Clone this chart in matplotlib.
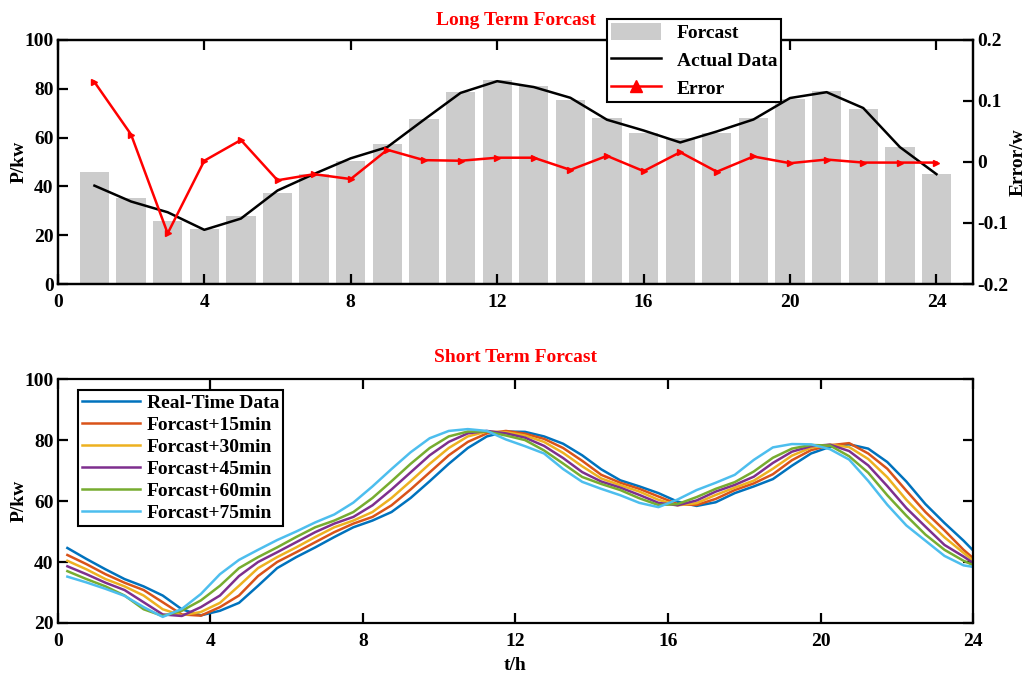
import numpy as np
import matplotlib
matplotlib.use("Agg")
import matplotlib.pyplot as plt
from matplotlib.lines import Line2D
from matplotlib.patches import Patch

plt.rcParams["font.family"] = ["Liberation Serif", "DejaVu Serif"]
plt.rcParams["font.weight"] = "bold"
plt.rcParams["axes.labelweight"] = "bold"

# ── long term data (hourly) ────────────────────────────────────────────────
hours = list(range(1, 25))
forecast = [45.8, 35.1, 25.9, 22.6, 27.8, 37.3, 45.0, 50.3, 57.2, 67.6, 78.6, 83.4,
            81.3, 75.5, 68.0, 61.9, 60.0, 61.9, 68.0, 75.9, 79.0, 71.5, 56.1, 45.1]
actual = [40.3, 33.8, 29.4, 22.2, 26.8, 38.3, 45.1, 51.5, 56.1, 67.3, 78.3, 83.1,
          80.7, 76.3, 67.3, 62.9, 58.0, 62.5, 67.4, 76.2, 78.6, 72.1, 56.1, 45.0]
error = [0.131, 0.045, -0.117, 0.002, 0.036, -0.030, -0.020, -0.028, 0.020, 0.003,
         0.002, 0.007, 0.007, -0.013, 0.010, -0.015, 0.016, -0.016, 0.009, -0.002,
         0.004, -0.001, -0.001, -0.001]

# ── short term data (every 30 min) ─────────────────────────────────────────
t = [0.25, 0.75, 1.25, 1.75, 2.25, 2.75, 3.25, 3.75, 4.25, 4.75, 5.25, 5.75,
     6.25, 6.75, 7.25, 7.75, 8.25, 8.75, 9.25, 9.75, 10.25, 10.75, 11.25, 11.75,
     12.25, 12.75, 13.25, 13.75, 14.25, 14.75, 15.25, 15.75, 16.25, 16.75, 17.25, 17.75,
     18.25, 18.75, 19.25, 19.75, 20.25, 20.75, 21.25, 21.75, 22.25, 22.75, 23.25, 23.75, 24.0]
real_time = [44.6, 41.0, 37.6, 34.4, 32.0, 29.0, 24.5, 22.5, 24.0, 26.6, 32.2, 38.0,
             41.6, 44.8, 48.2, 51.4, 53.6, 56.4, 61.0, 66.5, 72.2, 77.4, 81.2, 82.8,
             82.7, 81.2, 78.8, 75.0, 70.4, 66.8, 64.8, 62.6, 59.8, 58.4, 59.6, 62.6,
             64.8, 67.2, 71.6, 75.6, 77.8, 78.6, 77.2, 72.8, 66.4, 59.0, 52.8, 47.0, 43.8]
fc_15 = [42.3, 39.3, 36.0, 33.2, 30.8, 26.8, 22.8, 22.4, 25.2, 29.0, 35.4, 40.0,
         43.2, 46.5, 49.8, 52.6, 54.8, 58.6, 63.8, 69.4, 75.0, 79.4, 82.2, 83.0,
         82.1, 80.4, 77.4, 73.2, 68.6, 66.0, 64.0, 61.5, 59.0, 58.7, 60.7, 63.6,
         65.8, 68.8, 73.4, 76.7, 78.3, 79.0, 75.6, 70.6, 63.4, 56.4, 50.4, 44.0, 41.3]
fc_30 = [40.4, 37.6, 34.4, 32.0, 29.0, 24.5, 22.5, 23.6, 26.6, 32.2, 38.0, 41.6,
         44.8, 48.2, 51.4, 53.6, 56.4, 61.0, 66.5, 72.2, 77.4, 81.2, 82.8, 82.6,
         81.5, 79.4, 75.8, 71.4, 67.4, 65.2, 63.1, 60.4, 58.6, 59.3, 62.0, 64.4,
         66.7, 70.6, 74.9, 77.5, 78.5, 77.7, 73.8, 67.8, 60.4, 54.0, 48.1, 43.0, 40.5]
fc_45 = [38.6, 36.0, 33.2, 30.8, 26.8, 22.8, 22.3, 25.2, 29.0, 35.4, 40.0, 43.2,
         46.5, 49.8, 52.6, 54.8, 58.6, 63.8, 69.4, 75.0, 79.4, 82.2, 83.0, 82.2,
         80.8, 78.1, 74.1, 69.5, 66.4, 64.4, 62.0, 59.4, 58.6, 60.2, 63.1, 65.3,
         68.0, 72.5, 76.2, 78.0, 78.5, 76.4, 71.7, 64.9, 57.7, 51.6, 45.6, 41.8, 39.7]
fc_60 = [37.0, 34.4, 32.0, 29.0, 24.5, 22.3, 24.0, 27.4, 32.2, 38.0, 41.6, 44.8,
         48.2, 51.4, 53.6, 56.4, 61.0, 66.5, 72.2, 77.4, 81.2, 82.8, 82.8, 81.5,
         80.0, 76.6, 72.3, 67.9, 65.6, 63.6, 60.9, 58.7, 59.0, 61.3, 64.0, 66.2,
         69.7, 74.2, 77.2, 78.4, 78.2, 74.7, 69.3, 61.9, 55.2, 49.0, 44.0, 40.4, 39.0]
fc_75 = [35.2, 33.3, 31.2, 28.9, 25.2, 22.0, 24.6, 29.5, 36.0, 40.7, 44.0, 47.2,
         50.0, 53.0, 55.6, 59.5, 64.8, 70.5, 76.0, 80.6, 83.0, 83.6, 83.0, 80.2,
         78.0, 75.6, 70.5, 66.3, 64.0, 61.9, 59.4, 58.0, 60.5, 63.6, 66.0, 68.6,
         73.5, 77.6, 78.7, 78.6, 77.0, 73.6, 66.6, 58.8, 52.0, 47.0, 42.0, 38.9, 38.4]

short_series = [real_time, fc_15, fc_30, fc_45, fc_60, fc_75]
short_labels = ["Real-Time Data", "Forcast+15min", "Forcast+30min",
                "Forcast+45min", "Forcast+60min", "Forcast+75min"]
short_colors = ["#0072BD", "#D95319", "#EDB120", "#7E2F8E", "#77AC30", "#4DBEEE"]

FS = 14

fig = plt.figure(figsize=(10.33, 6.77), dpi=100)
ax1 = fig.add_axes([0.056, 0.5805, 0.886, 0.3605])
ax3 = fig.add_axes([0.056, 0.0798, 0.886, 0.3602])


def style(ax):
    for s in ax.spines.values():
        s.set_linewidth(1.6)
    ax.tick_params(direction="in", length=7, width=1.6, labelsize=FS, pad=3)
    ax.tick_params(axis="x", pad=7)


# ── top: long term ─────────────────────────────────────────────────────────
ax1.bar(hours, forecast, width=0.8, color="#CCCCCC", zorder=1)
ax1.plot(hours, actual, color="black", linewidth=1.8, zorder=3)
ax1.set_xlim(0, 25)
ax1.set_ylim(0, 100)
ax1.set_xticks(range(0, 25, 4))
ax1.set_yticks(range(0, 101, 20))
ax1.set_ylabel("P/kw", fontsize=FS, labelpad=-2)
style(ax1)
ax1.tick_params(axis="x", top=True)

ax2 = ax1.twinx()
ax2.plot(hours, error, color="red", linewidth=1.8, marker=">", markersize=5)
ax2.set_ylim(-0.2, 0.2)
ax2.set_yticks([-0.2, -0.1, 0, 0.1, 0.2])
ax2.set_yticklabels(["-0.2", "-0.1", "0", "0.1", "0.2"])
ax2.set_ylabel("Error/w", fontsize=FS, labelpad=1)
style(ax2)

ax1.set_title("Long Term Forcast", color="red", fontsize=FS, fontweight="bold", pad=11)

handles = [Patch(facecolor="#CCCCCC", edgecolor="none"),
           Line2D([], [], color="black", linewidth=1.8),
           Line2D([], [], color="red", linewidth=1.8, marker="^", markersize=9)]
leg = ax2.legend(handles, ["Forcast", "Actual Data", "Error"],
                 loc="upper left", bbox_to_anchor=(607 / 1033, 1 - 19 / 677),
                 bbox_transform=fig.transFigure, borderaxespad=0,
                 fontsize=FS, frameon=True, fancybox=False, framealpha=1,
                 edgecolor="black", handlelength=2.6, handleheight=1.0,
                 handletextpad=0.8, labelspacing=0.43, borderpad=0.2)
leg.get_frame().set_linewidth(1.5)

# ── bottom: short term ─────────────────────────────────────────────────────
for vals, lab, col in zip(short_series, short_labels, short_colors):
    ax3.plot(t, vals, color=col, linewidth=1.8, label=lab)
ax3.set_xlim(0, 24)
ax3.set_ylim(20, 100)
ax3.set_xticks(range(0, 25, 4))
ax3.set_yticks(range(20, 101, 20))
ax3.set_ylabel("P/kw", fontsize=FS, labelpad=-2)
ax3.set_xlabel("t/h", fontsize=FS, labelpad=5)
style(ax3)
ax3.tick_params(top=True, right=True)
ax3.set_title("Short Term Forcast", color="red", fontsize=FS, fontweight="bold", pad=12)

leg2 = ax3.legend(loc="upper left", bbox_to_anchor=(78 / 1033, 1 - 390 / 677),
                  bbox_transform=fig.transFigure, borderaxespad=0,
                  fontsize=FS, frameon=True, fancybox=False, framealpha=1,
                  edgecolor="black", handlelength=3.0, handletextpad=0.35,
                  labelspacing=0.23, borderpad=0.2)
leg2.get_frame().set_linewidth(1.5)

fig.savefig("out.png", dpi=100)
